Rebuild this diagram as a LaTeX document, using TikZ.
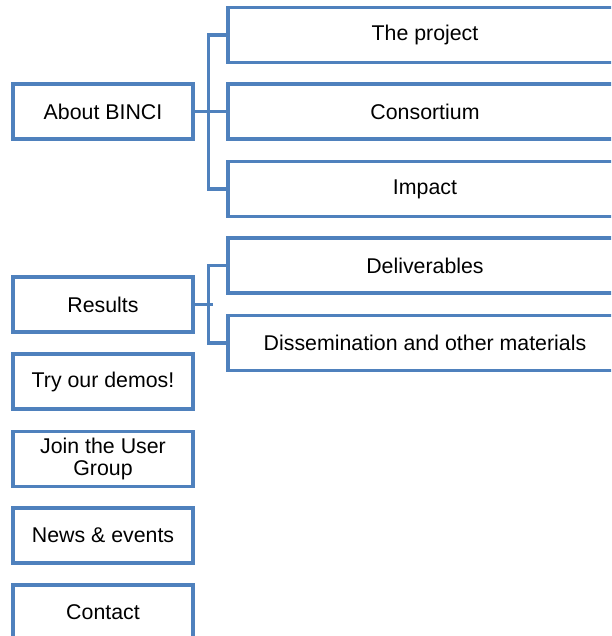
\documentclass[tikz,border=0pt]{standalone}
\usepackage{fontspec}
\setmainfont{Liberation Sans}
\usepackage{xcolor}
\usetikzlibrary{positioning,calc}

\definecolor{menublue}{RGB}{79,129,189}

\tikzset{
    menubox/.style={draw=menublue, line width=2.3pt, fill=white, inner sep=0pt,
        minimum height=41.25pt, align=center, font=\fontsize{16}{16.5}\selectfont},
    mainbox/.style={menubox, minimum width=135pt},
    subbox/.style={menubox, minimum width=295.5pt},
    branch/.style={draw=menublue, line width=2.3pt}
}

\begin{document}
\begin{tikzpicture}[x=0.75pt,y=-0.75pt]
    % page frame
    \path[use as bounding box] (0,0) rectangle (611,636);
    \clip (0,0) rectangle (611,636);

    % Main menu
    \node[mainbox] (about) at (103,111.5) {About BINCI};
    \node[mainbox] (results) at (103,304.5) {Results};
    \node[mainbox] (demos) at (103,381.5) {Try our demos!};
    \node[mainbox] (usergroup) at (103,459) {Join the User\\Group};
    \node[mainbox] (news) at (103,535.5) {News \& events};
    \node[mainbox] (contact) at (103,612.5) {Contact};

    % Sub menus
    \node[subbox] (project) at (425,35) {The project};
    \node[subbox] (consortium) at (425,111.5) {Consortium};
    \node[subbox] (impact) at (425,189) {Impact};
    \node[subbox] (deliverables) at (425,265.5) {Deliverables};
    \node[subbox] (dissemination) at (425,343) {Dissemination and other materials};

    % Brackets
    \draw[branch] (about.east) -- (consortium.west);
    \draw[branch] (project.west) -- ++(-18,0) |- (impact.west);
    \draw[branch] (results.east) -- ++(18,0) coordinate (resultsfork);
    \draw[branch] (deliverables.west) -- ++(-18,0) |- (dissemination.west);
\end{tikzpicture}
\end{document}
